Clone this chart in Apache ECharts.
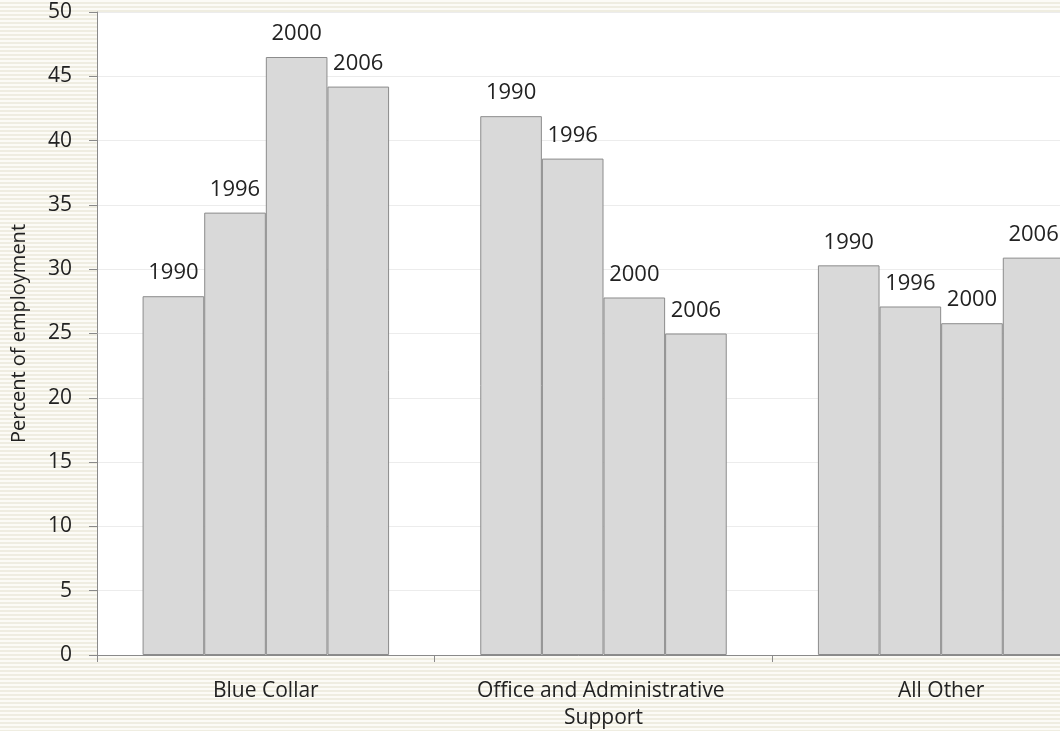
<!DOCTYPE html>
<html>
<head>
<meta charset="utf-8">
<script src="https://cdn.jsdelivr.net/npm/echarts@6/dist/echarts.min.js"></script>
<style>
  html, body { margin: 0; padding: 0; }
  body {
    width: 1060px; height: 731px; overflow: hidden;
    background: repeating-linear-gradient(to bottom, #fcfbf6 0px, #fcfbf6 2px, #efede1 2px, #efede1 4px);
  }
  #chart { width: 1060px; height: 731px; }
</style>
</head>
<body>
<div id="chart"></div>
<script>
// Occupational groups on the category axis
const categories = ['Blue Collar', 'Office and Administrative Support', 'All Other'];
// One series per survey year
const years = ['1990', '1996', '2000', '2006'];
// Percent of employment by year, in category order
const values1990 = [27.9, 41.9, 30.3];
const values1996 = [34.4, 38.6, 27.1];
const values2000 = [46.5, 27.8, 25.8];
const values2006 = [44.2, 25.0, 30.9];
// Y axis ticks
const yMin = 0, yMax = 50, yStep = 5;

const seriesValues = [values1990, values1996, values2000, values2006];
const FONT = '"Open Sans", sans-serif';
const TEXT = '#222222';
const AXIS = '#8a8a8a';

const chart = echarts.init(document.getElementById('chart'), null, { renderer: 'canvas' });

chart.setOption({
  animation: false,
  backgroundColor: 'transparent',
  textStyle: { fontFamily: FONT },
  grid: {
    left: 97, right: -50, top: 12, bottom: 76,
    outerBoundsMode: 'none',
    containLabel: false,
    show: true, backgroundColor: '#ffffff', borderWidth: 0
  },
  xAxis: {
    type: 'category',
    data: categories,
    axisLine: { show: true, lineStyle: { color: AXIS, width: 1 } },
    axisTick: { show: true, length: 7, alignWithLabel: false, lineStyle: { color: AXIS } },
    axisLabel: {
      interval: 0, hideOverlap: false,
      color: TEXT, fontFamily: FONT, fontSize: 21, margin: 23,
      width: 300, overflow: 'break', lineHeight: 27
    },
    splitLine: { show: false }
  },
  yAxis: {
    type: 'value',
    min: yMin, max: yMax, interval: yStep,
    name: 'Percent of employment',
    nameLocation: 'middle',
    nameGap: 68,
    nameRotate: 90,
    nameTextStyle: { color: TEXT, fontFamily: FONT, fontSize: 20 },
    axisLine: { show: true, lineStyle: { color: AXIS, width: 1 } },
    axisTick: { show: true, length: 8, lineStyle: { color: AXIS } },
    axisLabel: { color: TEXT, fontFamily: FONT, fontSize: 21, margin: 25 },
    splitLine: { show: true, lineStyle: { color: '#ececec', width: 1 } }
  },
  series: years.map((y, i) => ({
    name: y,
    type: 'bar',
    data: seriesValues[i],
    barGap: '0%',
    barCategoryGap: '27%',
    itemStyle: { color: '#d9d9d9', borderColor: '#8c8c8c', borderWidth: 1 },
    label: {
      show: true, position: 'top', distance: 12,
      formatter: () => y,
      color: TEXT, fontFamily: FONT, fontSize: 22
    }
  }))
});
</script>
</body>
</html>
